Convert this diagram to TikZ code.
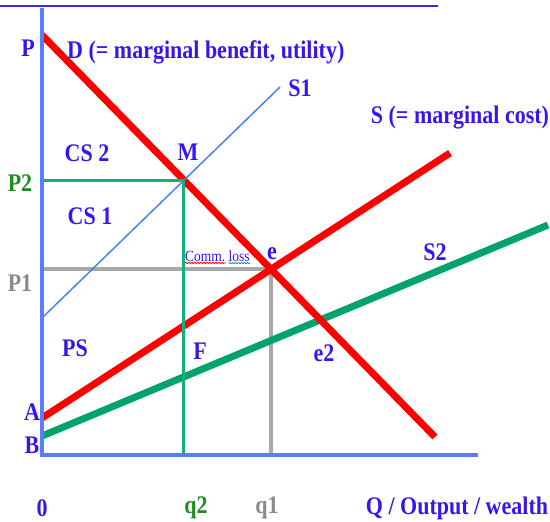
\documentclass[tikz,border=0pt]{standalone}
\usepackage{fontspec}
\setmainfont{Liberation Serif}
\usetikzlibrary{intersections,positioning,decorations.pathmorphing}
\definecolor{ecoInk}{HTML}{3A14EE}
\definecolor{ecoAxis}{HTML}{5A7CFF}
\definecolor{ecoRed}{HTML}{FF0000}
\definecolor{ecoGreen}{HTML}{00A36C}
\definecolor{ecoMint}{HTML}{12B07C}
\definecolor{ecoGrey}{HTML}{A8A8A8}
\definecolor{ecoGreyInk}{HTML}{8A8A8A}
\definecolor{ecoGreenInk}{HTML}{1E8C1E}
\definecolor{ecoSky}{HTML}{4A80F0}
\newcommand{\ecotall}[1]{\scalebox{1}[1.15]{#1}}
\tikzset{
  ecoaxis/.style={draw=ecoAxis, line width=4pt},
  ecocurve/.style={line width=7pt},
  ecoguide/.style={line width=3pt},
  ecolabel/.style={font=\bfseries\fontsize{22}{24}\selectfont,
    text=ecoInk, inner sep=0pt},
  ecosmall/.style={font=\fontsize{13.5}{14}\selectfont,
    text=ecoInk, inner sep=0pt},
  ecosquiggle/.style={decorate, decoration={snake, amplitude=.7pt,
    segment length=3pt}, line width=.8pt},
}

\begin{document}
\begin{tikzpicture}[x=1pt,y=-1pt]
  \useasboundingbox (0,0) rectangle (550,522);

  % underline of the clipped heading
  \draw[draw=ecoInk!85!ecoAxis, line width=1.8pt] (0,6) -- (438,6);

  % curves
  \coordinate (origin) at (42,455);
  \coordinate (ytop) at (42,8);
  \coordinate (xend) at (478,455);
  \path[name path=demand] (42,35) coordinate (dA) -- (435,437) coordinate (dB);
  \path[name path=supply] (42,418) coordinate (sA) -- (450,153) coordinate (sB);
  \path[name path=supplyone] (42,318) coordinate (oneA) -- (280,87) coordinate (oneB);
  \path[name path=supplytwo] (42,436) coordinate (twoA) -- (548,225) coordinate (twoB);
  \path[name intersections={of=demand and supplyone, by=M}];
  \path[name intersections={of=demand and supply, by=e}];
  \path[name intersections={of=demand and supplytwo, by=e2}];

  % guide lines to the axes
  \draw[ecoguide, draw=ecoGrey, line width=4pt] (e -| origin) -- (e) -- (e |- origin);
  \draw[ecocurve, draw=ecoRed] (sA) -- (sB);
  \draw[ecocurve, draw=ecoGreen] (twoA) -- (twoB);
  \draw[ecocurve, draw=ecoRed] (dA) -- (dB);
  \draw[draw=ecoSky, line width=1.5pt] (oneA) -- (oneB);
  \draw[ecoguide, draw=ecoMint] (M -| origin) -- (M) -- (M |- origin);

  % axes
  \draw[ecoaxis] (ytop) -- (origin) -- (xend);

  % labels
  \node[ecolabel] (lblP) at (28,48) {\ecotall{P}};
  \node[ecolabel, anchor=west] (lblD) at (67,52)
    {\ecotall{D (= marginal benefit, utility)}};
  \node[ecolabel] (lblSone) at (300,88) {\ecotall{S1}};
  \node[ecolabel] (lblS) at (460,118) {\ecotall{S (= marginal cost)}};
  \node[ecolabel] (lblCStwo) at (87,153) {\ecotall{CS 2}};
  \node[ecolabel] (lblM) at (188,152) {\ecotall{M}};
  \node[ecolabel, text=ecoGreenInk] (lblPtwo) at (20,183) {\ecotall{P2}};
  \node[ecolabel] (lblCSone) at (90,216) {\ecotall{CS 1}};
  \node[ecosmall, anchor=west] (comm) at (185,256) {\ecotall{Comm.}};
  \node[ecosmall, right=3pt of comm] (loss) {\ecotall{loss}};
  \draw[ecosquiggle, draw=ecoRed] ([yshift=-1.5pt]comm.south west)
    -- ([yshift=-1.5pt]comm.south east);
  \draw[ecosquiggle, draw=ecoGreen] ([yshift=-1.5pt]loss.south west)
    -- ([yshift=-1.5pt]loss.south east);
  \node[ecolabel] (lble) at (272,254) {\ecotall{e}};
  \node[ecolabel] (lblStwo) at (435,252) {\ecotall{S2}};
  \node[ecolabel, text=ecoGreyInk] (lblPone) at (20,283) {\ecotall{P1}};
  \node[ecolabel] (lblPS) at (75,348) {\ecotall{PS}};
  \node[ecolabel] (lblF) at (200,351) {\ecotall{F}};
  \node[ecolabel] (lbletwo) at (324,353) {\ecotall{e2}};
  \node[ecolabel] (lblA) at (32,412) {\ecotall{A}};
  \node[ecolabel] (lblB) at (32,445) {\ecotall{B}};
  \node[ecolabel] (lblzero) at (42,508) {\ecotall{0}};
  \node[ecolabel, text=ecoGreenInk] (lblqtwo) at (196,508) {\ecotall{q2}};
  \node[ecolabel, text=ecoGreyInk] (lblqone) at (267,508) {\ecotall{q1}};
  \node[ecolabel] (lblQ) at (457,508) {\ecotall{Q / Output / wealth}};
\end{tikzpicture}
\end{document}
